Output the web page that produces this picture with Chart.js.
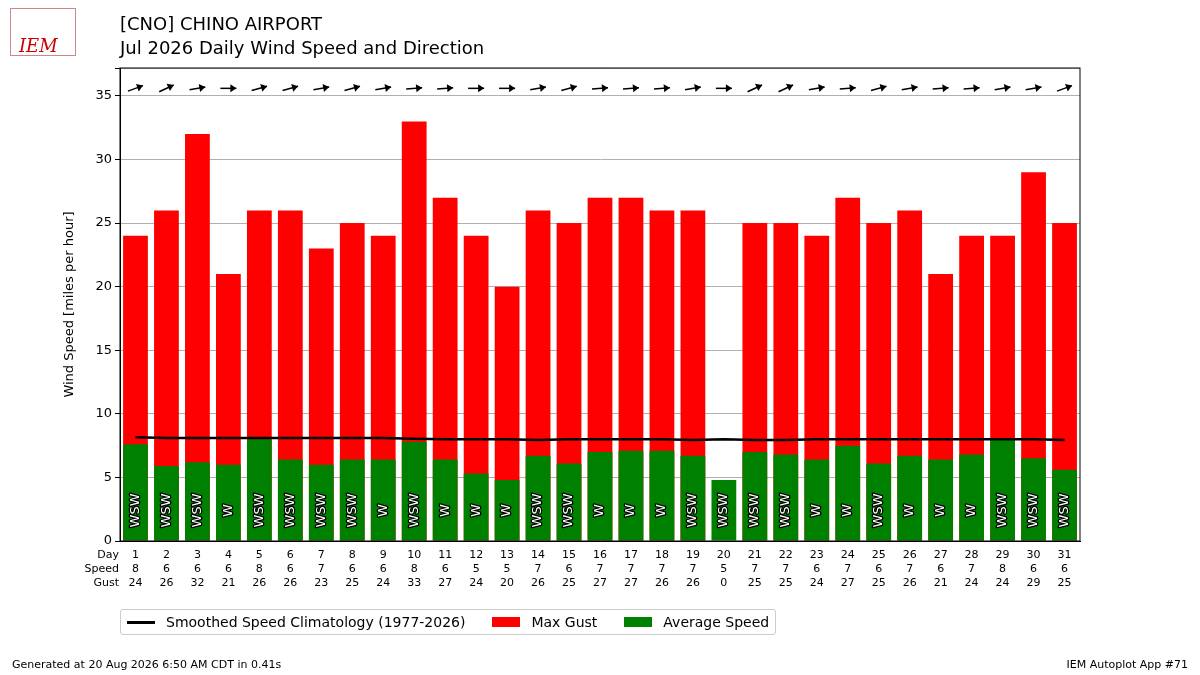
<!DOCTYPE html>
<html>
<head>
<meta charset="utf-8">
<script src="https://cdn.jsdelivr.net/npm/chart.js@4"></script>
<style>
  body { margin: 0; background: #fff; font-family: "DejaVu Sans", sans-serif; }
  #wrap { position: relative; width: 1200px; height: 675px; }
  canvas { position: absolute; left: 0; top: 0; }
  .t { position: absolute; color: #000; white-space: nowrap; }
  #legend { position: absolute; left: 120px; top: 609px; height: 26px; border: 1px solid #ccc; border-radius: 3px; font-size: 14px; display: flex; align-items: center; padding: 0 6px; box-sizing: border-box; }
  #legend span.k { display: inline-block; width: 28px; margin-right: 11px; }
  #legend span.i { margin-right: 27px; }
</style>
</head>
<body>
<div id="wrap">
  <canvas id="chart" width="1200" height="675"></canvas>
  <div class="t" style="left:10px;top:8px;width:66px;height:48px;border:1px solid #c88;color:#c00;font:italic 18px 'DejaVu Serif';padding-top:26px;box-sizing:border-box;padding-left:8px;">IEM</div>
  <div class="t" style="left:120px;top:13px;font-size:18px;">[CNO] CHINO AIRPORT</div>
  <div class="t" style="left:120px;top:37px;font-size:18px;">Jul 2026 Daily Wind Speed and Direction</div>
  <div id="legend">
    <span class="k" style="height:3px;background:#000"></span><span class="i">Smoothed Speed Climatology (1977-2026)</span>
    <span class="k" style="height:10px;background:#f00"></span><span class="i">Max Gust</span>
    <span class="k" style="height:10px;background:#008000"></span><span>Average Speed</span>
  </div>
  <div class="t" style="left:12px;top:658px;font-size:11px;">Generated at 20 Aug 2026 6:50 AM CDT in 0.41s</div>
  <div class="t" style="right:12px;top:658px;font-size:11px;">IEM Autoplot App #71</div>
</div>
<script>
const days = Array.from({length: 31}, (_, i) => String(i + 1));
const avgSpeed = [7.6,5.9,6.2,6.0,8.0,6.4,6.0,6.4,6.4,7.8,6.4,5.3,4.8,6.7,6.1,7.0,7.1,7.1,6.7,4.8,7.0,6.8,6.4,7.5,6.1,6.7,6.4,6.8,8.0,6.5,5.6];
const speedLabel = [8,6,6,6,8,6,7,6,6,8,6,5,5,7,6,7,7,7,7,5,7,7,6,7,6,7,6,7,8,6,6];
const maxGust = [24,26,32,21,26,26,23,25,24,33,27,24,20,26,25,27,27,26,26,0,25,25,24,27,25,26,21,24,24,29,25];
const climo = [8.15,8.1,8.1,8.1,8.1,8.1,8.1,8.1,8.1,8.05,8.0,8.0,8.0,7.95,8.0,8.0,8.0,8.0,7.95,8.0,7.95,7.95,8.0,8.0,8.0,8.0,8.0,8.0,8.0,8.0,7.95];
const dirText = ["WSW","WSW","WSW","W","WSW","WSW","WSW","WSW","W","WSW","W","W","W","WSW","WSW","W","W","W","WSW","WSW","WSW","WSW","W","W","WSW","W","W","W","WSW","WSW","WSW"];
const dirDeg = [250,245,260,270,255,255,260,255,260,265,265,270,270,260,255,265,265,265,260,270,245,245,260,265,255,260,265,265,260,260,250];

const annot = {
  id: "annot",
  afterDatasetsDraw(chart) {
    const ctx = chart.ctx, x = chart.scales.x, y = chart.scales.y;
    ctx.save();
    ctx.font = "13px 'DejaVu Sans'";
    ctx.textAlign = "center"; ctx.textBaseline = "middle";
    ctx.lineWidth = 2.5; ctx.lineJoin = "round"; ctx.strokeStyle = "#000"; ctx.fillStyle = "#fff";
    days.forEach((d, i) => {
      const px = x.getPixelForValue(i);
      ctx.save();
      ctx.translate(px, y.getPixelForValue(2.4));
      ctx.rotate(-Math.PI / 2);
      ctx.strokeText(dirText[i], 0, 0);
      ctx.fillText(dirText[i], 0, 0);
      ctx.restore();
    });
    ctx.strokeStyle = "#000"; ctx.fillStyle = "#000"; ctx.lineWidth = 1.5;
    days.forEach((d, i) => {
      const px = x.getPixelForValue(i), py = y.getPixelForValue(35.6);
      const a = (dirDeg[i] + 180) * Math.PI / 180;
      const dx = Math.sin(a), dy = -Math.cos(a);
      ctx.beginPath();
      ctx.moveTo(px - dx * 8, py - dy * 8);
      ctx.lineTo(px + dx * 8, py + dy * 8);
      ctx.stroke();
      const hx = px + dx * 8, hy = py + dy * 8;
      ctx.beginPath();
      ctx.moveTo(hx, hy);
      ctx.lineTo(hx - dx * 6 - dy * 4, hy - dy * 6 + dx * 4);
      ctx.lineTo(hx - dx * 6 + dy * 4, hy - dy * 6 - dx * 4);
      ctx.closePath();
      ctx.fill();
    });
    ctx.font = "11px 'DejaVu Sans'";
    ctx.fillStyle = "#000";
    const rows = [["Day", days], ["Speed", speedLabel], ["Gust", maxGust]];
    rows.forEach((r, k) => {
      const ry = y.bottom + 14 + k * 14;
      ctx.textAlign = "right";
      ctx.fillText(r[0], x.left - 1, ry);
      ctx.textAlign = "center";
      r[1].forEach((v, i) => ctx.fillText(String(v), x.getPixelForValue(i), ry));
    });
    ctx.restore();
  }
};

new Chart(document.getElementById("chart"), {
  data: {
    labels: days,
    datasets: [
      { type: "line", label: "Smoothed Speed Climatology (1977-2026)", data: climo, borderColor: "#000", backgroundColor: "#000", borderWidth: 2.5, pointRadius: 0, order: 0 },
      { type: "bar", label: "Max Gust", data: maxGust, backgroundColor: "#ff0000", barPercentage: 0.8, categoryPercentage: 1, grouped: false, order: 2 },
      { type: "bar", label: "Average Speed", data: avgSpeed, backgroundColor: "#008000", barPercentage: 0.8, categoryPercentage: 1, grouped: false, order: 1 }
    ]
  },
  options: {
    responsive: false, animation: false,
    layout: { padding: { left: 62, right: 120, top: 68, bottom: 126 } },
    plugins: { legend: { display: false }, tooltip: { enabled: false } },
    scales: {
      x: {
        offset: true,
        ticks: { display: false },
        grid: { display: false },
        border: { color: "#000" }
      },
      y: {
        min: 0, max: 37.2,
        afterFit(s) { s.width = 58; },
        title: { display: true, text: "Wind Speed [miles per hour]", color: "#000", font: { family: "DejaVu Sans", size: 13 }, padding: 0 },
        ticks: { stepSize: 5, color: "#000", font: { family: "DejaVu Sans", size: 13 }, callback: v => (v % 5 === 0 ? v : "") },
        grid: { color: "#b0b0b0", tickColor: "#000", tickLength: 5 },
        border: { color: "#000" }
      }
    }
  },
  plugins: [annot, {
    id: "frame",
    afterDraw(chart) {
      const a = chart.chartArea, c = chart.ctx;
      c.save(); c.strokeStyle = "#000"; c.lineWidth = 1;
      c.strokeRect(a.left, a.top, a.right - a.left, a.bottom - a.top);
      c.restore();
    }
  }]
});
</script>
</body>
</html>
